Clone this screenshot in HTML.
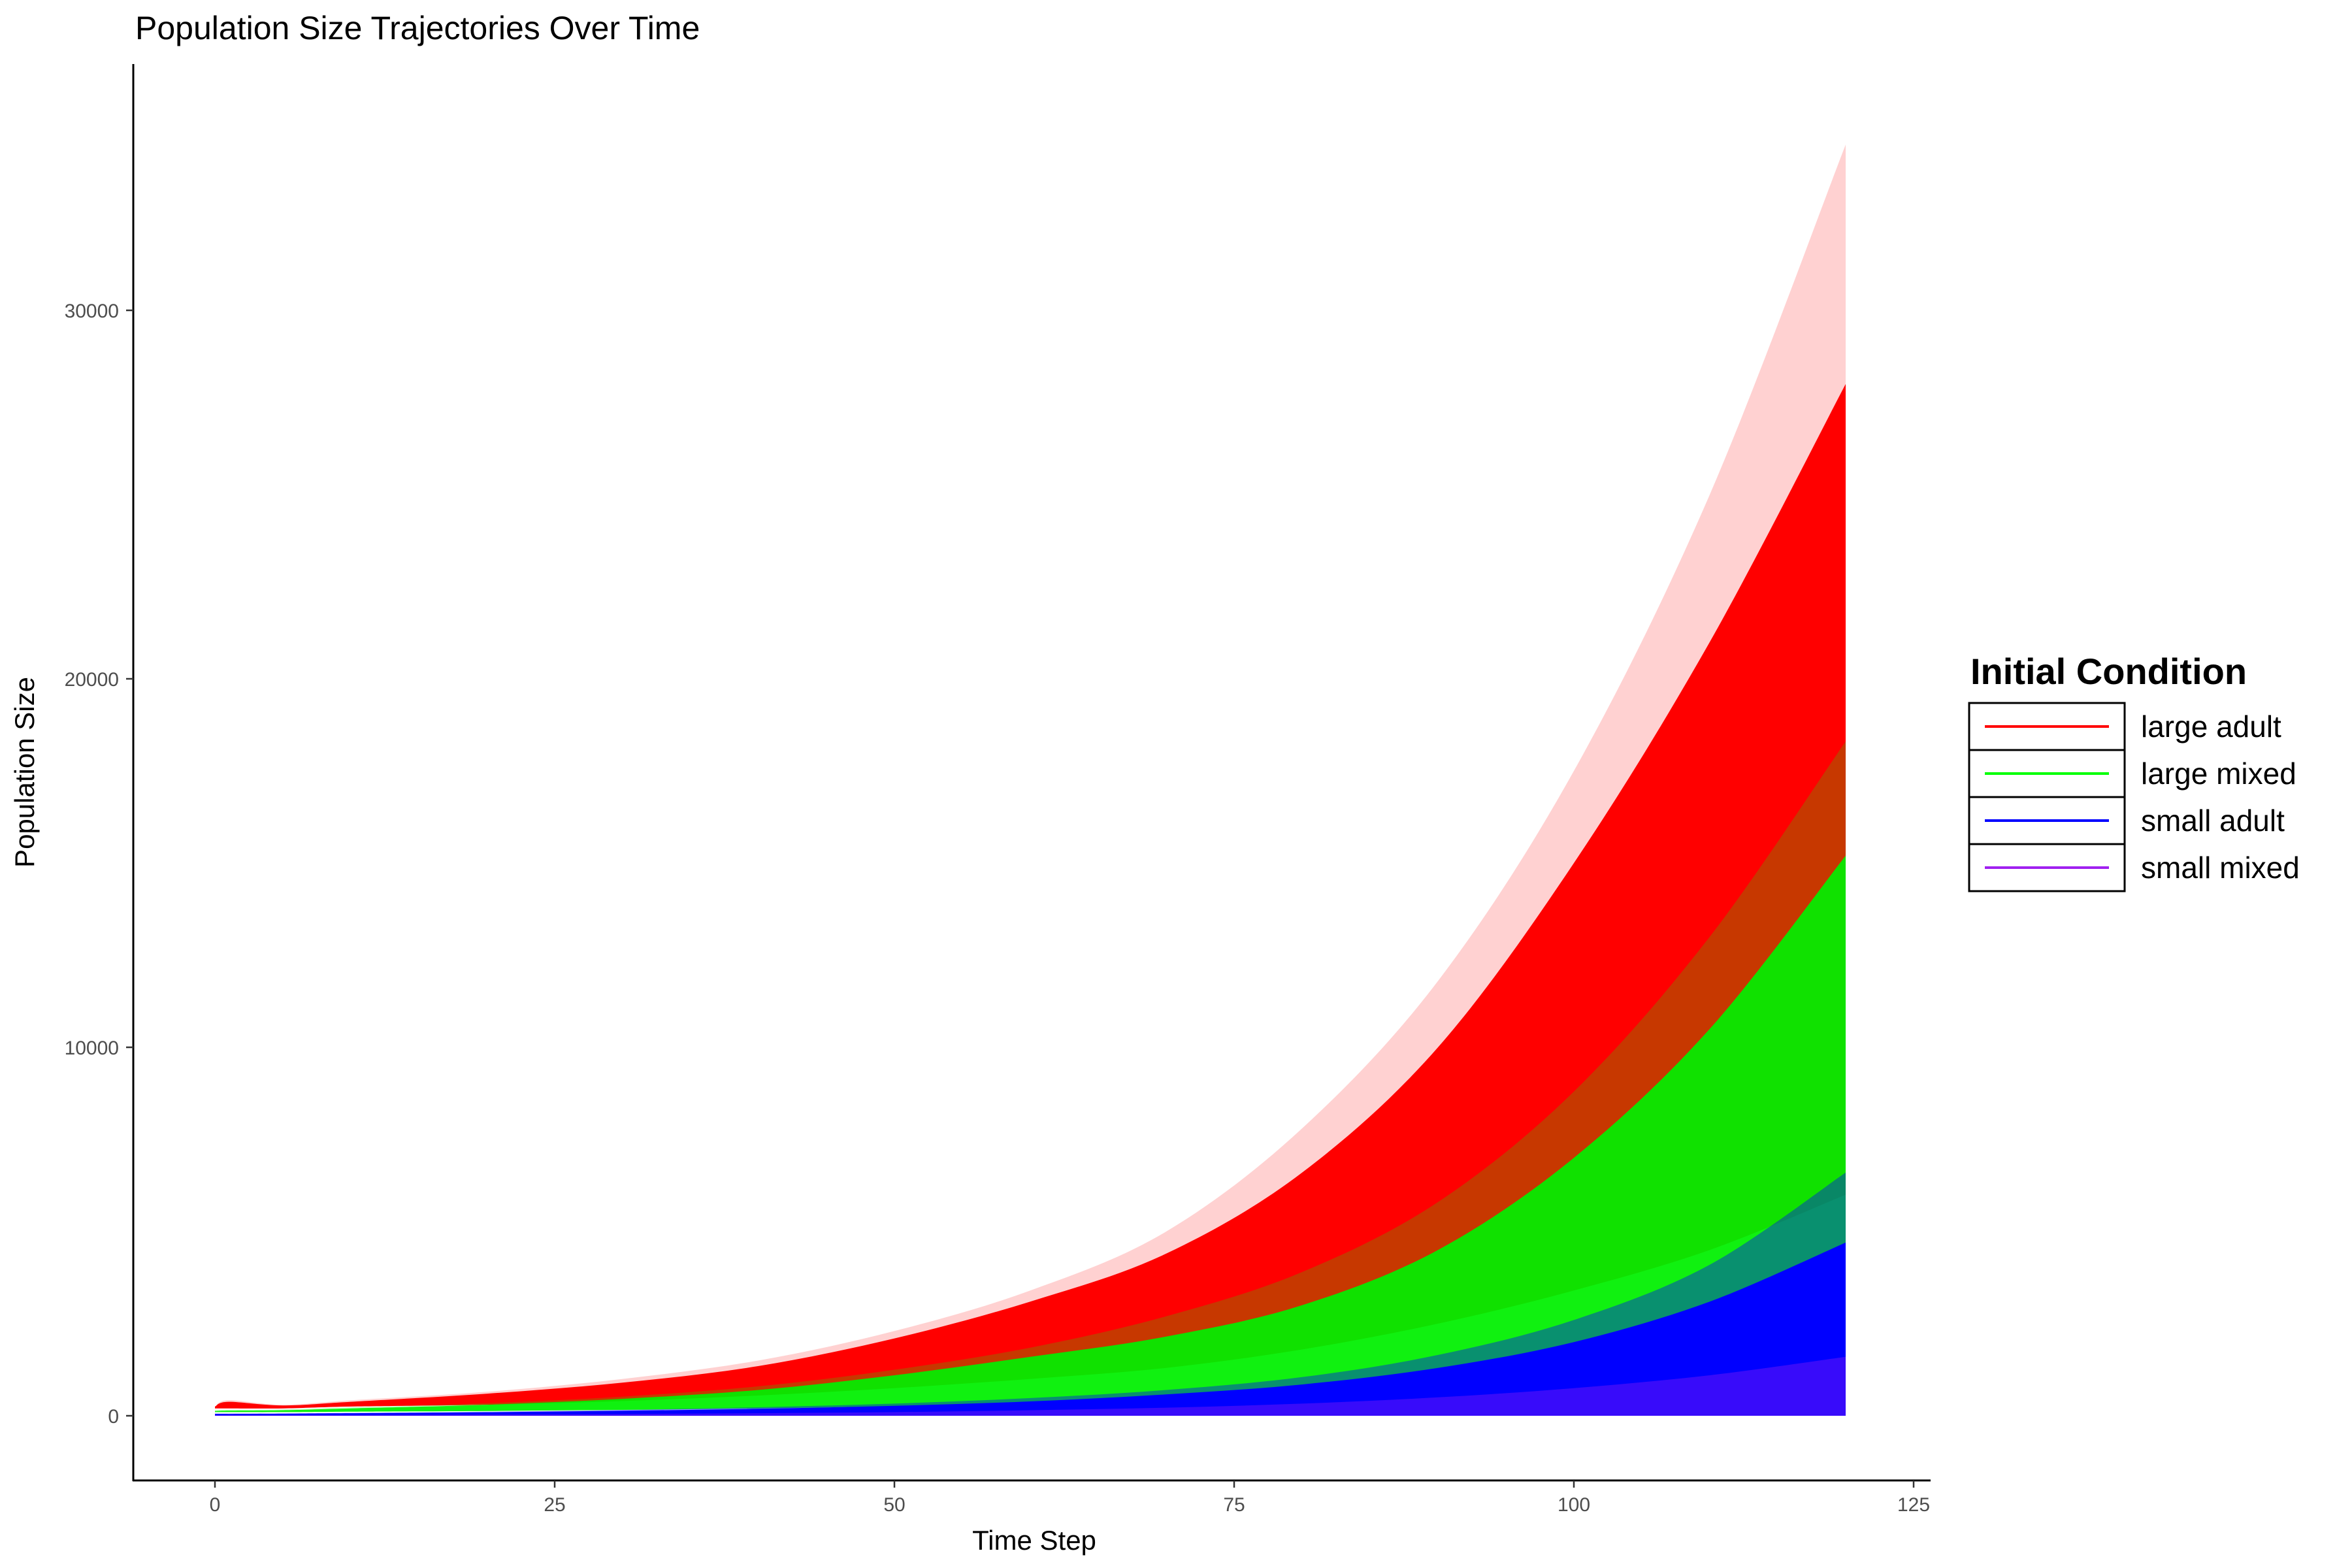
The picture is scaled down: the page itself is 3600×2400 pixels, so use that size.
<!DOCTYPE html>
<html><head><meta charset="utf-8"><style>
html,body{margin:0;padding:0;background:#fff}
svg{display:block;font-family:"Liberation Sans",sans-serif}
</style></head><body>
<svg id="chart" width="3600" height="2400" viewBox="0 0 3600 2400" xmlns="http://www.w3.org/2000/svg">
<rect width="3600" height="2400" fill="#fff"/>
<text x="207" y="60" font-size="50" fill="#000">Population Size Trajectories Over Time</text>
<g id="bands"></g>
<g id="axes"></g>
<text x="1583" y="2372" font-size="42" text-anchor="middle">Time Step</text>
<text transform="translate(52,1182) rotate(-90)" font-size="42" text-anchor="middle">Population Size</text>
<g id="legend">
<text x="3016" y="1047" font-size="56" font-weight="bold">Initial Condition</text>
</g>
</svg>
<script>
const times = [0,1,5,10,20,30,40,50,60,70,80,90,100,110,120];
const redFaintUpper   = [250,420,300,420,650,1000,1500,2300,3400,5000,7800,11800,17500,25000,34500];
const redDenseUpper   = [250,380,280,380,600,900,1350,2100,3100,4400,6600,10000,15000,21000,28000];
const redLower        = [200,200,200,250,300,400,550,750,1000,1300,1800,2500,3400,4500,6000];
const greenFaintUpper = [150,160,170,230,340,520,800,1250,1850,2700,3900,5800,8800,13000,18300];
const greenDenseUpper = [130,140,150,200,300,460,700,1100,1600,2150,3000,4500,7000,10500,15200];
const greenLower      = [100,100,100,110,130,160,200,260,340,440,580,760,1000,1300,1700];
const blueFaintUpper  = [60,60,65,80,110,160,230,330,480,700,1050,1650,2600,4100,6600];
const blueDenseUpper  = [50,50,55,70,95,135,190,270,390,580,850,1300,2000,3100,4700];
const purpleUpper     = [20,20,20,25,35,50,70,100,150,220,330,500,750,1100,1600];
const zeros           = [0,0,0,0,0,0,0,0,0,0,0,0,0,0,0];
const xTicks = [0,25,50,75,100,125];
const yTicks = [0,10000,20000,30000];
const legendLabels = ["large adult","large mixed","small adult","small mixed"];
const legendColors = ["#ff0000","#00ff00","#0000ff","#a020f0"];

const NS = "http://www.w3.org/2000/svg";
function xs(t){ return 329 + t*20.8; }
function ys(v){ return 2167 - v*0.0564; }
function pts(arr){ return times.map((t,i)=>[xs(t), ys(arr[i])]); }
function curve(p){
  let d = "";
  for(let i=0;i<p.length-1;i++){
    const p0=p[Math.max(0,i-1)], p1=p[i], p2=p[i+1], p3=p[Math.min(p.length-1,i+2)];
    const c1=[p1[0]+(p2[0]-p0[0])/6, p1[1]+(p2[1]-p0[1])/6];
    const c2=[p2[0]-(p3[0]-p1[0])/6, p2[1]-(p3[1]-p1[1])/6];
    d += ` C${c1[0].toFixed(1)},${c1[1].toFixed(1)} ${c2[0].toFixed(1)},${c2[1].toFixed(1)} ${p2[0].toFixed(1)},${p2[1].toFixed(1)}`;
  }
  return d;
}
function band(upper, lower, color, op, name){
  const up = pts(upper), lo = pts(lower).reverse();
  const d = `M${up[0][0]},${up[0][1]}` + curve(up) + ` L${lo[0][0]},${lo[0][1]}` + curve(lo) + " Z";
  const el = document.createElementNS(NS,"path");
  el.setAttribute("d", d);
  el.setAttribute("fill", color);
  el.setAttribute("fill-opacity", op);
  
  
  document.getElementById("bands").appendChild(el);
}
band(redFaintUpper, redLower, "#ff0000", 0.18, "large-adult-faint-band");
band(redDenseUpper, redLower, "#ff0000", 1, "large-adult-band");
band(greenFaintUpper, greenLower, "#00ff00", 0.22, "large-mixed-faint-band");
band(greenDenseUpper, greenLower, "#00f000", 0.92, "large-mixed-band");
band(blueFaintUpper, zeros, "#0000ff", 0.4, "small-adult-faint-band");
band(blueDenseUpper, zeros, "#0000ff", 1, "small-adult-band");
band(purpleUpper, zeros, "#a020f0", 0.35, "small-mixed-band");

const axes = document.getElementById("axes");
function mk(tag, attrs, name){
  const el = document.createElementNS(NS, tag);
  for(const k in attrs) el.setAttribute(k, attrs[k]);
  
  
  return el;
}
axes.appendChild(mk("line",{x1:204,y1:98,x2:204,y2:2267,stroke:"#000","stroke-width":3},"y-axis-line"));
axes.appendChild(mk("line",{x1:203,y1:2266,x2:2955,y2:2266,stroke:"#000","stroke-width":3},"x-axis-line"));
xTicks.forEach(t=>{
  axes.appendChild(mk("line",{x1:xs(t),y1:2266,x2:xs(t),y2:2277,stroke:"#333","stroke-width":2.5},"x-tick"));
  const tx = mk("text",{x:xs(t),y:2313,"font-size":30,fill:"#4d4d4d","text-anchor":"middle"},"x-tick-label");
  tx.textContent = t;
  axes.appendChild(tx);
});
yTicks.forEach(v=>{
  axes.appendChild(mk("line",{x1:193,y1:ys(v),x2:204,y2:ys(v),stroke:"#333","stroke-width":2.5},"y-tick"));
  const tx = mk("text",{x:182,y:ys(v)+11,"font-size":30,fill:"#4d4d4d","text-anchor":"end"},"y-tick-label");
  tx.textContent = v;
  axes.appendChild(tx);
});
const leg = document.getElementById("legend");
legendLabels.forEach((lab,i)=>{
  const y0 = 1076 + i*72;
  leg.appendChild(mk("rect",{x:3014,y:y0,width:238,height:72,fill:"#fff",stroke:"#000","stroke-width":3},"legend-key-box"));
  leg.appendChild(mk("line",{x1:3038,y1:y0+36,x2:3228,y2:y0+36,stroke:legendColors[i],"stroke-width":4},"legend-key-line"));
  const tx = mk("text",{x:3277,y:y0+52,"font-size":46,fill:"#000"},"legend-entry");
  tx.textContent = lab;
  leg.appendChild(tx);
});
</script>
</body></html>
